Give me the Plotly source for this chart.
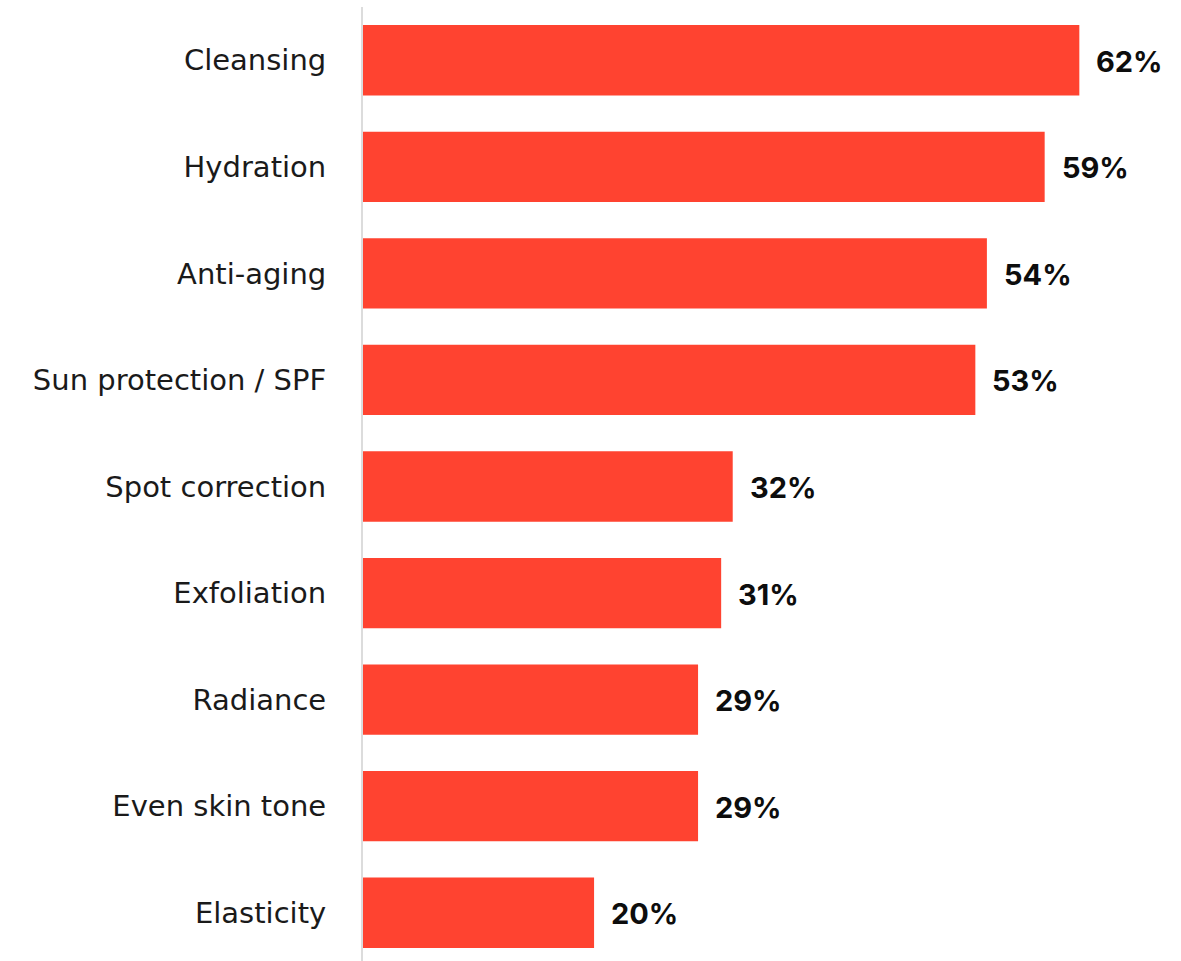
import plotly.graph_objects as go

categories = ["Cleansing", "Hydration", "Anti-aging", "Sun protection / SPF",
              "Spot correction", "Exfoliation", "Radiance", "Even skin tone", "Elasticity"]
values = [62, 59, 54, 53, 32, 31, 29, 29, 20]
value_labels = ["62%", "59%", "54%", "53%", "32%", "31%", "29%", "29%", "20%"]

positions = list(range(len(categories)))

fig = go.Figure(
    go.Bar(
        x=values,
        y=positions,
        orientation="h",
        marker=dict(color="#FF4330", line=dict(width=0)),
        width=0.66,
        hoverinfo="skip",
    )
)

for pos, val, lab in zip(positions, values, value_labels):
    fig.add_annotation(
        x=val, y=pos, text=lab, showarrow=False,
        xanchor="left", yanchor="middle", xshift=15, yshift=-1,
        font=dict(family="Inter", size=29, color="#0d0d0d", weight="bold"),
    )

fig.update_layout(
    width=1181, height=961,
    margin=dict(l=363, r=0, t=7, b=0),
    plot_bgcolor="white", paper_bgcolor="white",
    showlegend=False,
    xaxis=dict(range=[0, 70.8], visible=False, fixedrange=True),
    yaxis=dict(
        range=[8.453, -0.5],
        tickvals=positions, ticktext=categories,
        showgrid=False, zeroline=False,
        showline=True, linecolor="#dcdcdc", linewidth=2,
        ticks="", ticklabelstandoff=29,
        tickfont=dict(family="DejaVu Sans", size=29, color="#1a1a1a"),
    ),
)

fig.write_html("out.html")
